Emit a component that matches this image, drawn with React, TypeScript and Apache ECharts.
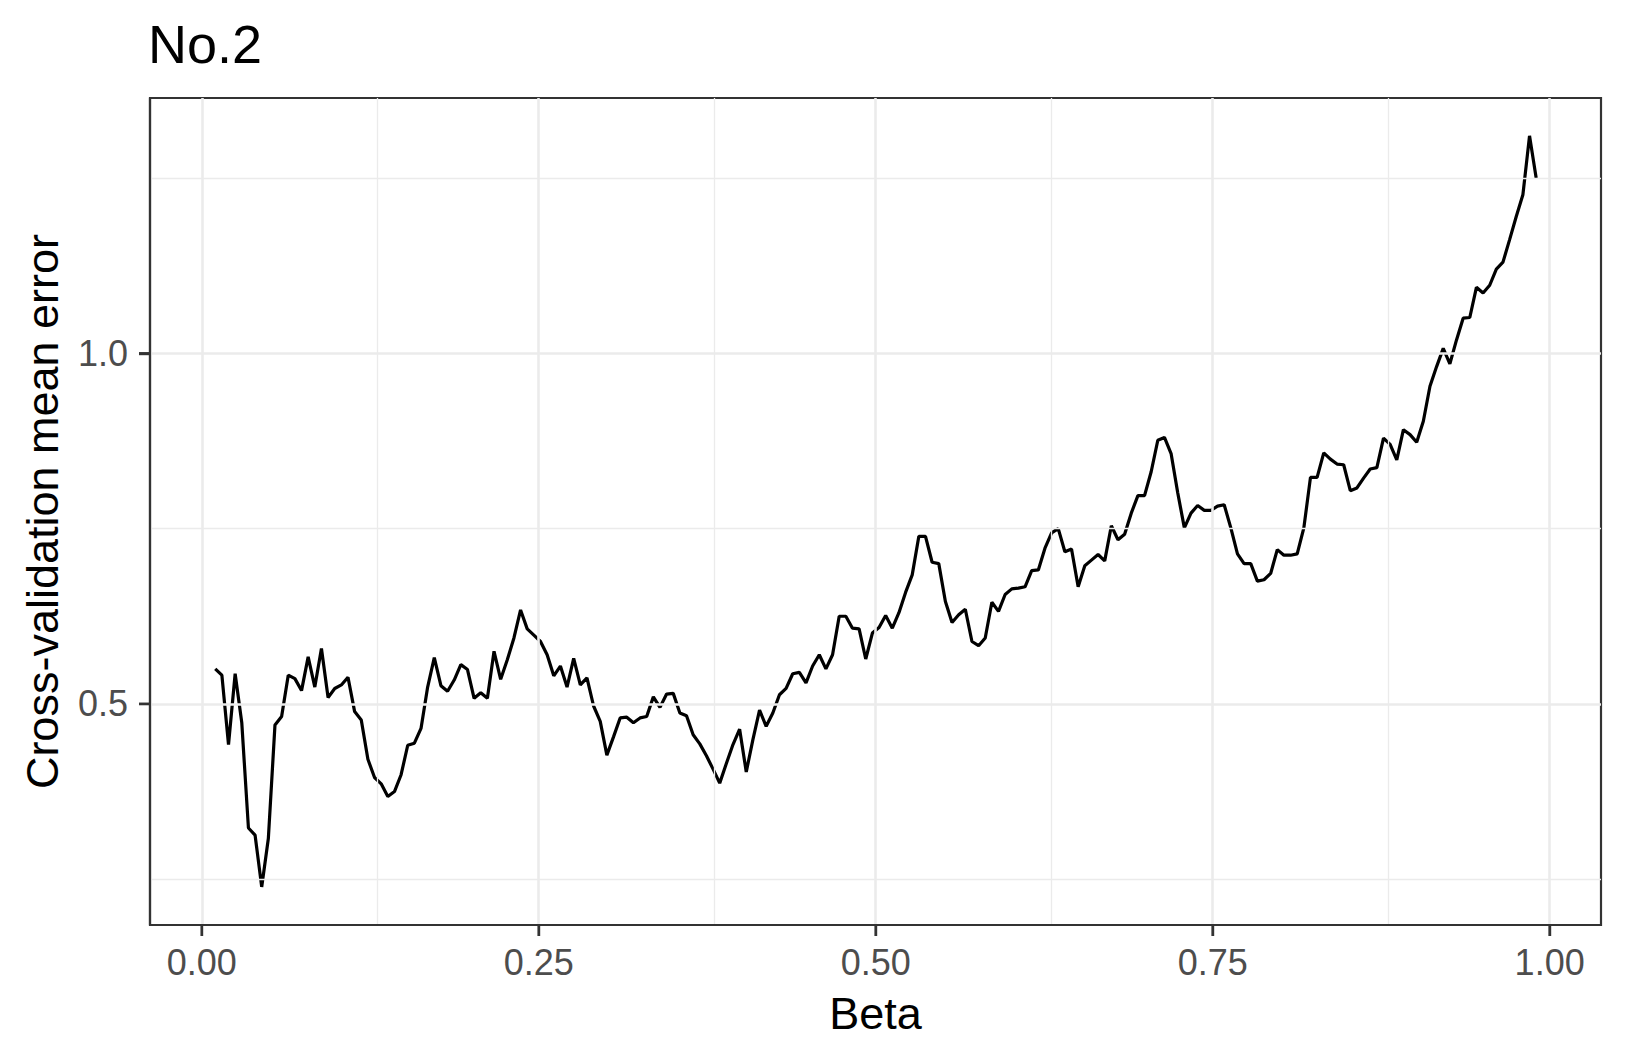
import React, { useEffect, useRef } from "react";
import * as echarts from "echarts";

// Cross-validation mean error, 200 evenly spaced beta values from 0.01 to 0.99
const errorValues = [
  0.550, 0.541, 0.442, 0.543, 0.473, 0.323, 0.313, 0.239, 0.308, 0.470,
  0.482, 0.541, 0.536, 0.519, 0.567, 0.524, 0.579, 0.509, 0.522, 0.527,
  0.538, 0.489, 0.477, 0.421, 0.395, 0.386, 0.368, 0.375, 0.399, 0.441,
  0.444, 0.465, 0.524, 0.566, 0.526, 0.518, 0.534, 0.556, 0.549, 0.508,
  0.516, 0.508, 0.575, 0.535, 0.563, 0.594, 0.634, 0.607, 0.598, 0.589,
  0.570, 0.540, 0.554, 0.524, 0.565, 0.527, 0.537, 0.497, 0.475, 0.427,
  0.453, 0.480, 0.481, 0.473, 0.480, 0.482, 0.510, 0.495, 0.514, 0.515,
  0.487, 0.483, 0.456, 0.443, 0.426, 0.407, 0.387, 0.415, 0.442, 0.464,
  0.403, 0.449, 0.491, 0.468, 0.487, 0.513, 0.522, 0.543, 0.545, 0.530,
  0.554, 0.570, 0.550, 0.570, 0.625, 0.625, 0.608, 0.607, 0.564, 0.601,
  0.609, 0.626, 0.608, 0.630, 0.659, 0.684, 0.739, 0.739, 0.702, 0.700,
  0.646, 0.616, 0.627, 0.635, 0.589, 0.583, 0.594, 0.645, 0.632, 0.656,
  0.664, 0.665, 0.667, 0.690, 0.691, 0.722, 0.744, 0.750, 0.717, 0.721,
  0.667, 0.697, 0.705, 0.713, 0.704, 0.754, 0.734, 0.742, 0.772, 0.797,
  0.797, 0.831, 0.876, 0.880, 0.857, 0.801, 0.751, 0.772, 0.783, 0.776,
  0.776, 0.782, 0.784, 0.751, 0.714, 0.700, 0.700, 0.675, 0.677, 0.686,
  0.720, 0.712, 0.712, 0.714, 0.751, 0.823, 0.823, 0.858, 0.849, 0.842,
  0.841, 0.804, 0.808, 0.822, 0.835, 0.837, 0.879, 0.870, 0.848, 0.891,
  0.884, 0.873, 0.903, 0.953, 0.981, 1.007, 0.985, 1.019, 1.050, 1.051,
  1.094, 1.086, 1.097, 1.120, 1.130, 1.162, 1.195, 1.226, 1.310, 1.250,
];

const betaStart = 0.01;
const betaEnd = 0.99;
const betaValues = errorValues.map(
  (_, i) => betaStart + (i * (betaEnd - betaStart)) / (errorValues.length - 1)
);

const xMajorTicks = [0, 0.25, 0.5, 0.75, 1.0];
const xMinorTicks = [0.125, 0.375, 0.625, 0.875];
const yMajorTicks = [0.5, 1.0];
const yMinorTicks = [0.25, 0.75, 1.25];

const X_MIN = -0.0384;
const X_MAX = 1.0381;
const Y_MIN = 0.1847;
const Y_MAX = 1.364;

const FONT = "'Liberation Sans', Arial, Helvetica, sans-serif";

export default function App() {
  const ref = useRef<HTMLDivElement>(null);

  useEffect(() => {
    document.body.style.margin = "0";
    const chart = echarts.init(ref.current!, null, { renderer: "svg" });

    const gridColor = "#EBEBEB";
    const majorW = 2.6;
    const minorW = 1.3;
    const markData = [
      ...xMajorTicks.map((v) => ({ xAxis: v, lineStyle: { color: gridColor, width: majorW, type: "solid" } })),
      ...xMinorTicks.map((v) => ({ xAxis: v, lineStyle: { color: gridColor, width: minorW, type: "solid" } })),
      ...yMajorTicks.map((v) => ({ yAxis: v, lineStyle: { color: gridColor, width: majorW, type: "solid" } })),
      ...yMinorTicks.map((v) => ({ yAxis: v, lineStyle: { color: gridColor, width: minorW, type: "solid" } })),
    ];

    const axisLineStyle = { show: true, onZero: false, lineStyle: { color: "#333333", width: 2.2 } };
    const tickCfg = (values: number[]) => ({
      show: true,
      inside: false,
      customValues: values,
      length: 11,
      lineStyle: { color: "#333333", width: 2.4 },
    });

    chart.setOption({
      animation: false,
      backgroundColor: "#FFFFFF",
      title: {
        text: "No.2",
        left: 148,
        top: 17,
        padding: 0,
        textStyle: { fontFamily: FONT, fontSize: 54, fontWeight: "normal", color: "#000000" },
      },
      grid: {
        left: 150,
        top: 98,
        right: 24,
        bottom: 134,
        show: true,
        borderColor: "#333333",
        borderWidth: 2.2,
        backgroundColor: "transparent",
      },
      xAxis: {
        type: "value",
        position: "bottom",
        min: X_MIN,
        max: X_MAX,
        name: "Beta",
        nameLocation: "middle",
        nameGap: 66,
        nameTextStyle: { fontFamily: FONT, fontSize: 45, color: "#000000" },
        axisLine: axisLineStyle,
        axisTick: tickCfg(xMajorTicks),
        axisLabel: {
          customValues: xMajorTicks,
          formatter: (v: number) => v.toFixed(2),
          fontFamily: FONT,
          fontSize: 36,
          color: "#4D4D4D",
          margin: 19,
        },
        splitLine: { show: false },
        z: 10,
      },
      yAxis: {
        type: "value",
        position: "left",
        min: Y_MIN,
        max: Y_MAX,
        name: "Cross-validation mean error",
        nameLocation: "middle",
        nameGap: 85,
        nameTextStyle: { fontFamily: FONT, fontSize: 45, color: "#000000" },
        axisLine: axisLineStyle,
        axisTick: tickCfg(yMajorTicks),
        axisLabel: {
          customValues: yMajorTicks,
          formatter: (v: number) => v.toFixed(1),
          fontFamily: FONT,
          fontSize: 36,
          color: "#4D4D4D",
          margin: 22,
        },
        splitLine: { show: false },
        z: 10,
      },
      series: [
        {
          type: "line",
          data: [],
          z: 1,
          silent: true,
          markLine: {
            silent: true,
            symbol: "none",
            label: { show: false },
            animation: false,
            data: markData,
          },
        },
        {
          type: "line",
          z: 3,
          data: betaValues.map((b, i) => [b, errorValues[i]]),
          showSymbol: false,
          symbol: "none",
          lineStyle: { color: "#000000", width: 3.2 },
          silent: true,
        },
      ],
    });

    // Extra tick marks placed through the axes' own scales (redundant safety)
    const tickLen = 11;
    const ticks: any[] = [];
    xMajorTicks.forEach((v) => {
      const p = chart.convertToPixel({ xAxisIndex: 0, yAxisIndex: 0 }, [v, Y_MIN]) as number[];
      if (p && isFinite(p[0])) {
        ticks.push({
          type: "rect",
          silent: true,
          z: 100,
          shape: { x: p[0] - 1.2, y: p[1], width: 2.4, height: tickLen },
          style: { fill: "#333333" },
        });
      }
    });
    yMajorTicks.forEach((v) => {
      const p = chart.convertToPixel({ xAxisIndex: 0, yAxisIndex: 0 }, [X_MIN, v]) as number[];
      if (p && isFinite(p[1])) {
        ticks.push({
          type: "rect",
          silent: true,
          z: 100,
          shape: { x: p[0] - tickLen, y: p[1] - 1.2, width: tickLen, height: 2.4 },
          style: { fill: "#333333" },
        });
      }
    });
    chart.setOption({ graphic: { elements: ticks } });

    return () => {
      chart.dispose();
    };
  }, []);

  return (
    <div
      ref={ref}
      style={{ position: "fixed", left: 0, top: 0, width: 1625, height: 1059, background: "#fff" }}
    />
  );
}
